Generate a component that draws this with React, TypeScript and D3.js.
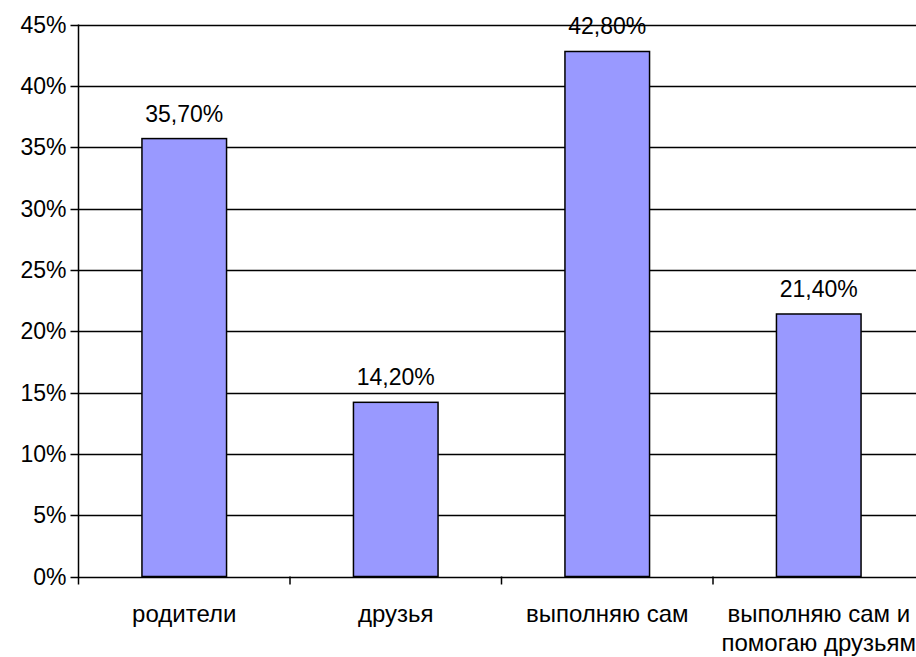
import React from "react";
import * as d3 from "d3";

const categories: string[][] = [
  ["родители"],
  ["друзья"],
  ["выполняю сам"],
  ["выполняю сам и", "помогаю друзьям"],
];
const values: number[] = [35.7, 14.2, 42.8, 21.4];
const valueLabels: string[] = ["35,70%", "14,20%", "42,80%", "21,40%"];
const yTicks: number[] = [0, 5, 10, 15, 20, 25, 30, 35, 40, 45];

const W = 916;
const H = 657;
const left = 78.5;
const right = 924.5;
const top = 24.5;
const bottom = 576.5;
const font = "'Liberation Sans', Arial, sans-serif";
const fs = 23;

export default function App() {
  const x = d3
    .scaleBand<number>()
    .domain(d3.range(categories.length))
    .range([left, right])
    .paddingInner(0.6)
    .paddingOuter(0.3);
  const step = x.step();
  const y = d3.scaleLinear().domain([0, 45]).range([bottom, top]);

  return (
    <svg
      width={W}
      height={H}
      style={{ position: "absolute", left: 0, top: 0, background: "#fff" }}
    >
      {/* horizontal gridlines and y ticks */}
      {yTicks.map((t) => (
        <g key={t}>
          <line x1={left - 8} x2={W} y1={Math.round(y(t)) + 0.5} y2={Math.round(y(t)) + 0.5} stroke="#000" strokeWidth={1.3} />
          <text
            x={left - 12}
            y={y(t) + 8}
            textAnchor="end"
            fontFamily={font}
            fontSize={fs}
            fill="#000"
          >
            {t}%
          </text>
        </g>
      ))}
      {/* bars */}
      {values.map((v, i) => (
        <g key={i}>
          <rect
            x={x(i)!}
            y={y(v)}
            width={x.bandwidth()}
            height={y(0) - y(v)}
            fill="#9999FF"
            stroke="#000"
            strokeWidth={1.5}
          />
          <text
            x={x(i)! + x.bandwidth() / 2}
            y={y(v) - 17}
            textAnchor="middle"
            fontFamily={font}
            fontSize={fs}
            fill="#000"
          >
            {valueLabels[i]}
          </text>
        </g>
      ))}
      {/* y axis */}
      <line x1={left} x2={left} y1={top} y2={bottom + 8} stroke="#000" strokeWidth={1.5} />
      {/* x axis ticks between categories */}
      {d3.range(1, categories.length).map((k) => (
        <line
          key={k}
          x1={left + step * k}
          x2={left + step * k}
          y1={bottom}
          y2={bottom + 8}
          stroke="#000"
          strokeWidth={1.5}
        />
      ))}
      {/* category labels */}
      {categories.map((lines, i) => (
        <text
          key={i}
          textAnchor="middle"
          fontFamily={font}
          fontSize={24}
          fill="#000"
        >
          {lines.map((ln, j) => (
            <tspan key={j} x={x(i)! + x.bandwidth() / 2} y={622 + j * 29}>
              {ln}
            </tspan>
          ))}
        </text>
      ))}
    </svg>
  );
}
